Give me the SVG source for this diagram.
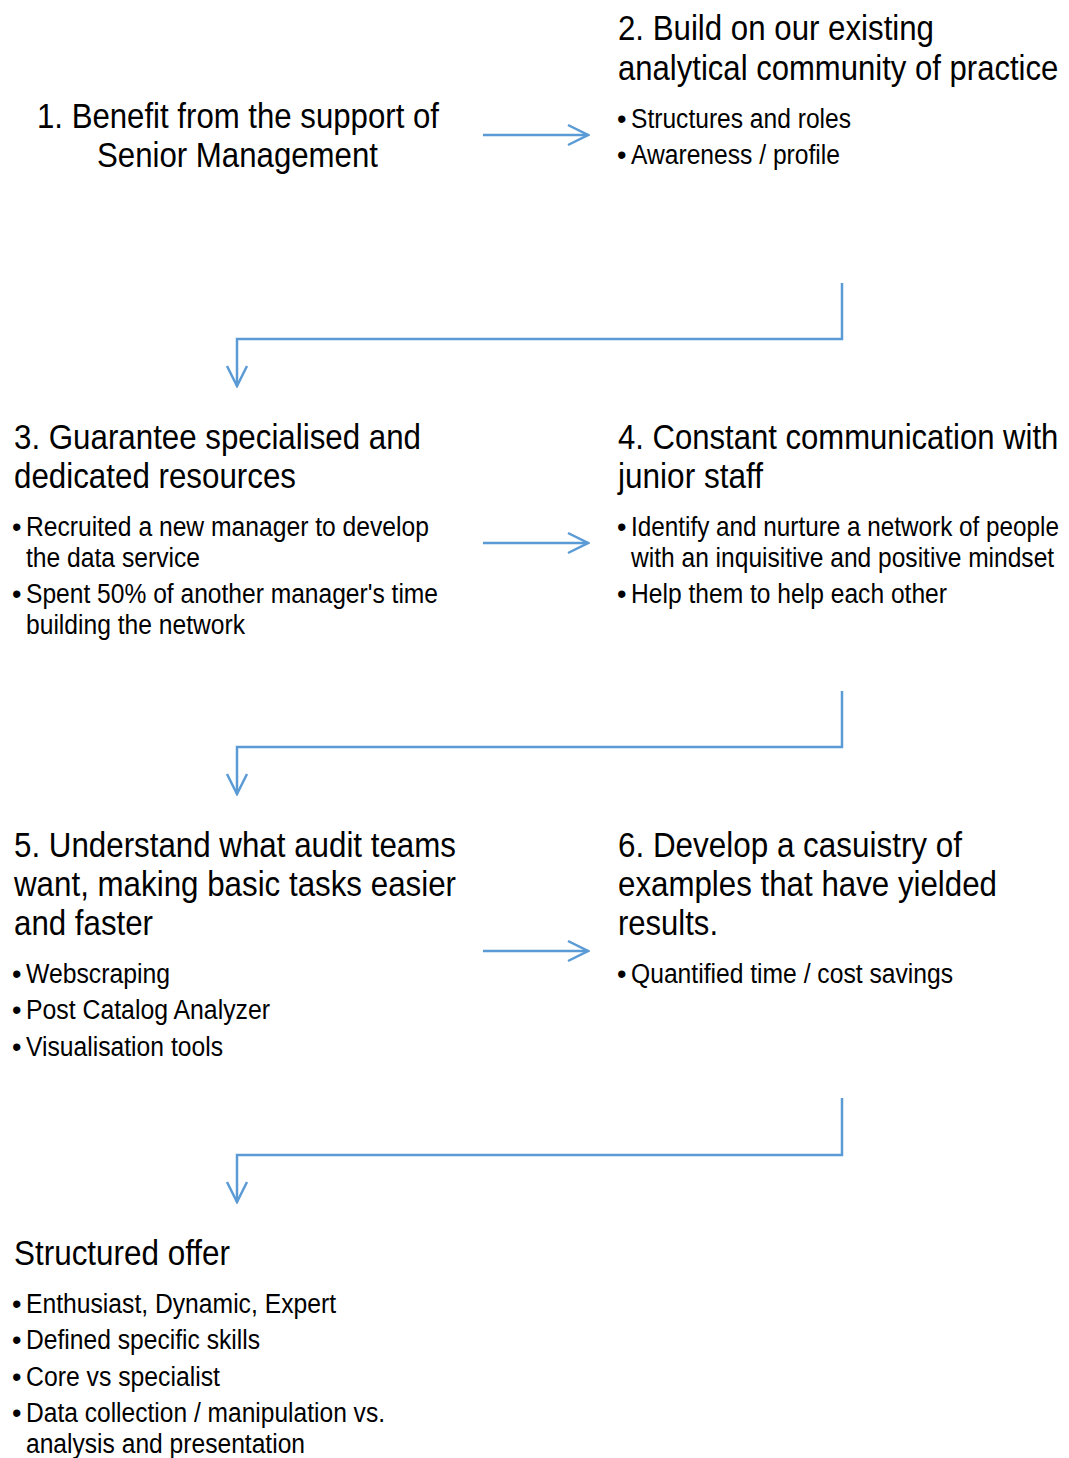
<svg xmlns="http://www.w3.org/2000/svg" width="1069" height="1458" viewBox="0 0 1069 1458">
<defs>
<style>
text{font-family:"Liberation Sans Narrow","Liberation Sans",Arial,sans-serif;fill:#000}
.t{font-size:35px}
.b{font-size:27px}
.c{fill:none;stroke:#5B9BD5;stroke-width:2.5}
</style>
<marker id="ah" markerWidth="24" markerHeight="24" viewBox="-22 -12 24 24" refX="0" refY="0" orient="auto" markerUnits="userSpaceOnUse">
<path d="M-20,-10 L0,0 L-20,10" fill="none" stroke="#5B9BD5" stroke-width="2.5"/>
</marker>
</defs>
<rect width="1069" height="1458" fill="#fff"/>
<g id="connectors">
<path class="c" d="M483,135 H588" marker-end="url(#ah)"/>
<path class="c" d="M842,283 V339 H237 V386" marker-end="url(#ah)"/>
<path class="c" d="M483,543 H588" marker-end="url(#ah)"/>
<path class="c" d="M842,691 V747 H237 V794" marker-end="url(#ah)"/>
<path class="c" d="M483,951 H588" marker-end="url(#ah)"/>
<path class="c" d="M842,1098 V1155 H237 V1202" marker-end="url(#ah)"/>
</g>
<g id="node1">
<text class="t" x="37" y="128" textLength="402" lengthAdjust="spacingAndGlyphs">1. Benefit from the support of</text>
<text class="t" x="97" y="167" textLength="281" lengthAdjust="spacingAndGlyphs">Senior Management</text>
</g>
<g id="node2">
<text class="t" x="618" y="40" textLength="316" lengthAdjust="spacingAndGlyphs">2. Build on our existing</text>
<text class="t" transform="translate(618,80) scale(0.82,1)" x="0" y="0" textLength="537" lengthAdjust="spacingAndGlyphs">analytical community of practice</text>
<text class="b" x="617" y="128">•</text><text class="b" x="631" y="128" textLength="220" lengthAdjust="spacingAndGlyphs">Structures and roles</text>
<text class="b" x="617" y="164">•</text><text class="b" x="631" y="164" textLength="209" lengthAdjust="spacingAndGlyphs">Awareness / profile</text>
</g>
<g id="node3">
<text class="t" x="14" y="449" textLength="407" lengthAdjust="spacingAndGlyphs">3. Guarantee specialised and</text>
<text class="t" x="14" y="488" textLength="282" lengthAdjust="spacingAndGlyphs">dedicated resources</text>
<text class="b" x="12" y="536">•</text><text class="b" x="26" y="536" textLength="403" lengthAdjust="spacingAndGlyphs">Recruited a new manager to develop</text>
<text class="b" x="26" y="567" textLength="174" lengthAdjust="spacingAndGlyphs">the data service</text>
<text class="b" x="12" y="603">•</text><text class="b" x="26" y="603" textLength="412" lengthAdjust="spacingAndGlyphs">Spent 50% of another manager's time</text>
<text class="b" x="26" y="634" textLength="219" lengthAdjust="spacingAndGlyphs">building the network</text>
</g>
<g id="node4">
<text class="t" transform="translate(618,449) scale(0.82,1)" x="0" y="0" textLength="537" lengthAdjust="spacingAndGlyphs">4. Constant communication with</text>
<text class="t" x="618" y="488" textLength="145" lengthAdjust="spacingAndGlyphs">junior staff</text>
<text class="b" x="617" y="536">•</text><text class="b" transform="translate(631,536) scale(0.82,1)" x="0" y="0" textLength="522" lengthAdjust="spacingAndGlyphs">Identify and nurture a network of people</text>
<text class="b" transform="translate(631,567) scale(0.82,1)" x="0" y="0" textLength="516" lengthAdjust="spacingAndGlyphs">with an inquisitive and positive mindset</text>
<text class="b" x="617" y="603">•</text><text class="b" x="631" y="603" textLength="316" lengthAdjust="spacingAndGlyphs">Help them to help each other</text>
</g>
<g id="node5">
<text class="t" x="14" y="857" textLength="442" lengthAdjust="spacingAndGlyphs">5. Understand what audit teams</text>
<text class="t" x="14" y="896" textLength="442" lengthAdjust="spacingAndGlyphs">want, making basic tasks easier</text>
<text class="t" x="14" y="935" textLength="139" lengthAdjust="spacingAndGlyphs">and faster</text>
<text class="b" x="12" y="983">•</text><text class="b" x="26" y="983" textLength="144" lengthAdjust="spacingAndGlyphs">Webscraping</text>
<text class="b" x="12" y="1019">•</text><text class="b" x="26" y="1019" textLength="244" lengthAdjust="spacingAndGlyphs">Post Catalog Analyzer</text>
<text class="b" x="12" y="1056">•</text><text class="b" x="26" y="1056" textLength="197" lengthAdjust="spacingAndGlyphs">Visualisation tools</text>
</g>
<g id="node6">
<text class="t" x="618" y="857" textLength="344" lengthAdjust="spacingAndGlyphs">6. Develop a casuistry of</text>
<text class="t" x="618" y="896" textLength="379" lengthAdjust="spacingAndGlyphs">examples that have yielded</text>
<text class="t" x="618" y="935" textLength="100" lengthAdjust="spacingAndGlyphs">results.</text>
<text class="b" x="617" y="983">•</text><text class="b" x="631" y="983" textLength="322" lengthAdjust="spacingAndGlyphs">Quantified time / cost savings</text>
</g>
<g id="node7">
<text class="t" x="14" y="1265" textLength="216" lengthAdjust="spacingAndGlyphs">Structured offer</text>
<text class="b" x="12" y="1313">•</text><text class="b" x="26" y="1313" textLength="310" lengthAdjust="spacingAndGlyphs">Enthusiast, Dynamic, Expert</text>
<text class="b" x="12" y="1349">•</text><text class="b" x="26" y="1349" textLength="234" lengthAdjust="spacingAndGlyphs">Defined specific skills</text>
<text class="b" x="12" y="1386">•</text><text class="b" x="26" y="1386" textLength="194" lengthAdjust="spacingAndGlyphs">Core vs specialist</text>
<text class="b" x="12" y="1422">•</text><text class="b" x="26" y="1422" textLength="359" lengthAdjust="spacingAndGlyphs">Data collection / manipulation vs.</text>
<text class="b" x="26" y="1453" textLength="279" lengthAdjust="spacingAndGlyphs">analysis and presentation</text>
</g>
</svg>
